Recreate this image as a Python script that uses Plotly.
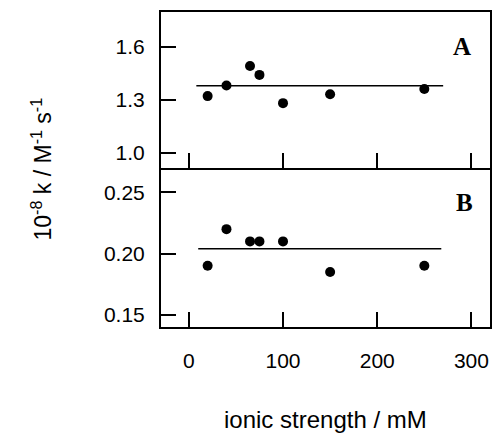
import plotly.graph_objects as go

# ---- data ----
ionic_strength = [20, 40, 65, 75, 100, 150, 250]
k_panel_a = [1.32, 1.38, 1.49, 1.44, 1.28, 1.33, 1.36]
k_panel_b = [0.19, 0.22, 0.21, 0.21, 0.21, 0.185, 0.19]

fit_x_a = [8, 270]
fit_a = [1.378, 1.378]
fit_x_b = [10, 268]
fit_b = [0.204, 0.204]

x_ticks = [0, 100, 200, 300]
a_ticks = [1.0, 1.3, 1.6]
a_tick_labels = ["1.0", "1.3", "1.6"]
b_ticks = [0.15, 0.20, 0.25]
b_tick_labels = ["0.15", "0.20", "0.25"]

FONT = "Liberation Sans, Arial, sans-serif"
W, H = 493, 436
L, R, T, B = 161, 1, 12, 109
split = 0.5048

fig = go.Figure()

marker = dict(color="black", size=10)
line = dict(color="black", width=1.5)

fig.add_trace(go.Scatter(x=ionic_strength, y=k_panel_a, mode="markers", marker=marker,
                         xaxis="x2", yaxis="y2", showlegend=False))
fig.add_trace(go.Scatter(x=fit_x_a, y=fit_a, mode="lines", line=line,
                         xaxis="x2", yaxis="y2", showlegend=False))
fig.add_trace(go.Scatter(x=ionic_strength, y=k_panel_b, mode="markers", marker=marker,
                         xaxis="x", yaxis="y", showlegend=False))
fig.add_trace(go.Scatter(x=fit_x_b, y=fit_b, mode="lines", line=line,
                         xaxis="x", yaxis="y", showlegend=False))

axis_common = dict(showline=True, linecolor="black", linewidth=2,
                   ticks="inside", ticklen=15, tickwidth=1.5, tickcolor="black",
                   showgrid=False, zeroline=False,
                   tickfont=dict(family=FONT, size=21, color="black"))
xrange = [-29.5, 319.7]

fig.update_layout(
    width=W, height=H,
    margin=dict(l=L, r=R, t=T, b=B, pad=0),
    paper_bgcolor="white", plot_bgcolor="white",
    hovermode=False,
    xaxis=dict(domain=[0, 1], range=xrange, anchor="y", tickvals=x_ticks, mirror=False,
               ticklabelstandoff=14, **axis_common),
    yaxis=dict(domain=[0, split], range=[0.140, 0.270], anchor="x", mirror=True,
               tickvals=b_ticks, ticktext=b_tick_labels, ticklabelstandoff=10, **axis_common),
    xaxis2=dict(domain=[0, 1], range=xrange, anchor="y2", tickvals=x_ticks, mirror=True,
                showticklabels=False, **axis_common),
    yaxis2=dict(domain=[split, 1], range=[0.913, 1.796], anchor="x2", mirror=True,
                tickvals=a_ticks, ticktext=a_tick_labels, ticklabelstandoff=10, **axis_common),
)

fig.add_annotation(text="10<sup>-8</sup> k / M<sup>-1</sup> s<sup>-1</sup>", textangle=-90,
                   xref="paper", yref="paper", x=0, y=0.5, xshift=-120,
                   xanchor="center", yanchor="middle", showarrow=False,
                   font=dict(family=FONT, size=23, color="black"))
fig.add_annotation(text="ionic strength / mM",
                   xref="paper", yref="paper", x=0.5, y=0, yshift=-92,
                   xanchor="center", yanchor="middle", showarrow=False,
                   font=dict(family=FONT, size=24, color="black"))
fig.add_annotation(text="<b>A</b>", xref="paper", yref="paper", x=0.9154, y=0.8889,
                   xanchor="center", yanchor="middle", showarrow=False,
                   font=dict(family="Liberation Serif, Times New Roman, serif", size=25, color="black"))
fig.add_annotation(text="<b>B</b>", xref="paper", yref="paper", x=0.9215, y=0.3937,
                   xanchor="center", yanchor="middle", showarrow=False,
                   font=dict(family="Liberation Serif, Times New Roman, serif", size=25, color="black"))

fig.write_html("out.html", config={"displayModeBar": False},
               post_script="document.body.style.margin='0';document.body.style.overflow='hidden';")
